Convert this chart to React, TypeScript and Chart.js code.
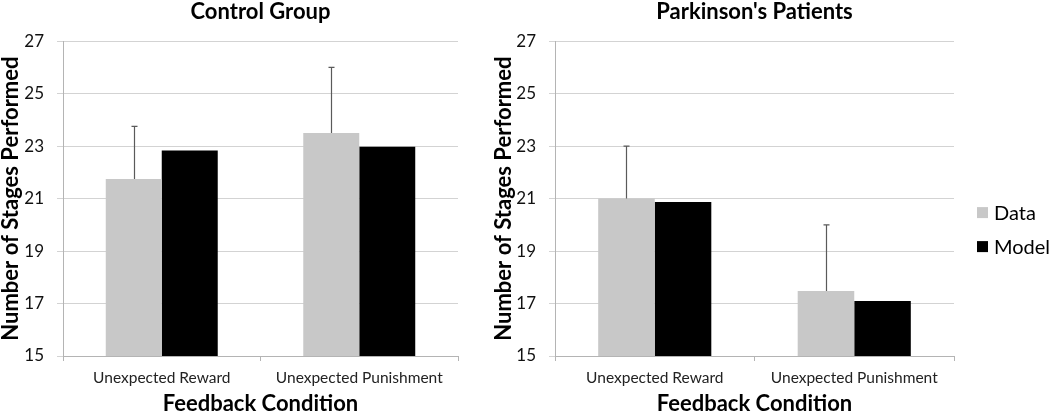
import { useEffect, useRef } from "react";
import { Chart, registerables } from "chart.js";

Chart.register(...registerables);

// ---- data ----
const categories = ["Unexpected Reward", "Unexpected Punishment"];
const seriesNames = ["Data", "Model"];
const controlTitle = "Control Group";
const pdTitle = "Parkinson's Patients";
const controlData = [21.75, 23.5];
const controlModel = [22.83, 22.98];
const controlErr = [2.0, 2.5];
const pdData = [21.0, 17.48];
const pdModel = [20.87, 17.1];
const pdErr = [2.0, 2.52];
const yMin = 15;
const yMax = 27;
const yStep = 2;
const yTitle = "Number of Stages Performed";
const xTitle = "Feedback Condition";

const FONT = "Lato, 'Open Sans', sans-serif";
const DATA_COLOR = "#c8c8c8";
const MODEL_COLOR = "#000000";
const GRID_COLOR = "#d3d3d3";
const AXIS_COLOR = "#b4b4b4";

function errorBarPlugin(errs: number[]) {
  return {
    id: "errorBars",
    afterDatasetsDraw(chart: any) {
      const meta = chart.getDatasetMeta(0);
      const yScale = chart.scales.y;
      const vals = chart.data.datasets[0].data as number[];
      const ctx = chart.ctx;
      ctx.save();
      ctx.strokeStyle = "#5a5a5a";
      ctx.lineWidth = 1.2;
      meta.data.forEach((el: any, i: number) => {
        const top = yScale.getPixelForValue(vals[i] + errs[i]);
        const x = Math.round(el.x) + 0.5;
        ctx.beginPath();
        ctx.moveTo(x, el.y);
        ctx.lineTo(x, top);
        ctx.moveTo(x - 3, top);
        ctx.lineTo(x + 3, top);
        ctx.stroke();
      });
      ctx.restore();
    },
  };
}

const sideLegendPlugin = {
  id: "sideLegend",
  afterDraw(chart: any) {
    const { ctx, chartArea } = chart;
    const mid = (chartArea.top + chartArea.bottom) / 2;
    const x = chartArea.right + 23;
    ctx.save();
    ctx.font = `20px ${FONT}`;
    ctx.textBaseline = "middle";
    ctx.fillStyle = "#000";
    chart.data.datasets.forEach((ds: any, i: number) => {
      const cy = mid + 14 + i * 34;
      ctx.fillStyle = ds.backgroundColor;
      ctx.fillRect(x, cy - 5.5, 11, 11);
      ctx.fillStyle = "#000";
      ctx.fillText(ds.label, x + 17, cy + 1);
    });
    ctx.restore();
  },
};

function makeConfig(
  title: string,
  data: number[],
  model: number[],
  errs: number[],
  padLeft: number,
  padRight: number,
  yWidth: number,
  withLegend: boolean
): any {
  const plugins: any[] = [errorBarPlugin(errs)];
  if (withLegend) plugins.push(sideLegendPlugin);
  return {
    type: "bar",
    data: {
      labels: categories,
      datasets: [
        {
          label: seriesNames[0],
          data,
          backgroundColor: DATA_COLOR,
          categoryPercentage: 0.567,
          barPercentage: 1.0,
        },
        {
          label: seriesNames[1],
          data: model,
          backgroundColor: MODEL_COLOR,
          categoryPercentage: 0.567,
          barPercentage: 1.0,
        },
      ],
    },
    plugins,
    options: {
      responsive: false,
      animation: false,
      layout: { padding: { left: padLeft, right: padRight, top: 0, bottom: 0 } },
      plugins: {
        legend: { display: false },
        tooltip: { enabled: false },
        title: {
          display: true,
          text: title,
          fullSize: false,
          color: "#000",
          font: { family: FONT, size: 22, weight: "bold", lineHeight: 1.1 },
          padding: { top: 0, bottom: 17 },
        },
      },
      scales: {
        x: {
          offset: true,
          grid: {
            offset: true,
            drawOnChartArea: false,
            drawTicks: true,
            tickLength: 5,
            color: AXIS_COLOR,
          },
          border: { display: true, color: AXIS_COLOR },
          ticks: {
            color: "#222",
            font: { family: FONT, size: 15.5 },
            padding: 8,
            maxRotation: 0,
          },
          title: {
            display: true,
            text: xTitle,
            color: "#000",
            font: { family: FONT, size: 22, weight: "bold", lineHeight: 1 },
            padding: { top: 0, bottom: 0 },
          },
          afterFit(s: any) {
            s.height = 59;
          },
        },
        y: {
          min: yMin,
          max: yMax,
          ticks: {
            stepSize: yStep,
            color: "#111",
            font: { family: FONT, size: 17 },
            padding: 13,
          },
          grid: {
            color: GRID_COLOR,
            drawTicks: true,
            tickLength: 6,
          },
          border: { display: true, color: AXIS_COLOR },
          title: {
            display: true,
            text: yTitle,
            color: "#000",
            font: { family: FONT, size: 22, weight: "bold", lineHeight: 1 },
            padding: { top: 0, bottom: 0 },
          },
          afterFit(s: any) {
            s.width = yWidth;
          },
        },
      },
    },
  };
}

export default function App() {
  const leftRef = useRef<HTMLCanvasElement>(null);
  const rightRef = useRef<HTMLCanvasElement>(null);

  useEffect(() => {
    const left = new Chart(
      leftRef.current!,
      makeConfig(controlTitle, controlData, controlModel, controlErr, 0, 22, 63, false)
    );
    const right = new Chart(
      rightRef.current!,
      makeConfig(pdTitle, pdData, pdModel, pdErr, 13, 96, 62, true)
    );
    return () => {
      left.destroy();
      right.destroy();
    };
  }, []);

  return (
    <div
      style={{
        position: "absolute",
        left: 0,
        top: 0,
        width: 1050,
        height: 415,
        background: "#fff",
      }}
    >
      <canvas
        ref={leftRef}
        width={480}
        height={415}
        style={{ position: "absolute", left: 0, top: 0, width: 480, height: 415 }}
      />
      <canvas
        ref={rightRef}
        width={570}
        height={415}
        style={{ position: "absolute", left: 480, top: 0, width: 570, height: 415 }}
      />
    </div>
  );
}
